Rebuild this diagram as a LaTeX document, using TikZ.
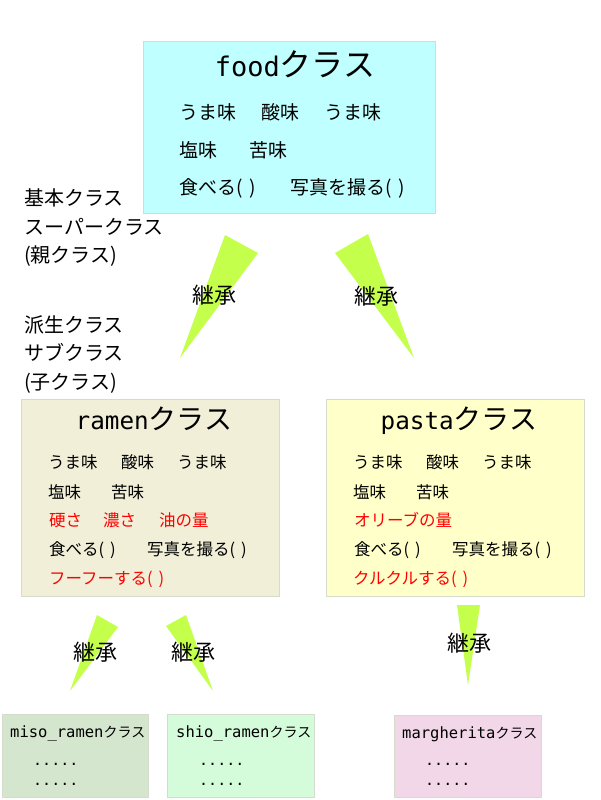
\documentclass[tikz,border=0pt]{standalone}
\usepackage{fontspec}
\setmainfont{Noto Sans CJK JP}
\setmonofont{DejaVu Sans Mono}
\usepackage{xcolor}
\usepackage{tikz}
\usetikzlibrary{positioning}
\definecolor{foodcol}{HTML}{C0FFFF}
\definecolor{ramencol}{HTML}{F1EFD8}
\definecolor{pastacol}{HTML}{FFFFCA}
\definecolor{misocol}{HTML}{D5E6CF}
\definecolor{shiocol}{HTML}{D4FCDA}
\definecolor{margcol}{HTML}{F1D7E8}
\definecolor{wedgecol}{HTML}{C4FF4C}
\definecolor{boxline}{HTML}{D6DCCB}
\tikzset{cls/.style={draw=boxline,line width=0.6pt,anchor=north west,inner sep=0},
  bigrow/.style={anchor=base west,inner sep=0,font=\fontsize{19}{22}\selectfont},
  row/.style={anchor=base west,inner sep=0,font=\fontsize{16.5}{20}\selectfont},
  side/.style={anchor=base west,inner sep=0,font=\fontsize{20}{23}\selectfont},
  small/.style={anchor=base west,inner sep=0,font=\fontsize{14}{16}\selectfont},
  dots/.style={anchor=base west,inner sep=0,font=\ttfamily\fontsize{15}{16}\selectfont},
  inh/.style={inner sep=0,font=\fontsize{22}{24}\selectfont},
  wedge/.style={fill=wedgecol}}

\begin{document}
\begin{tikzpicture}[x=1pt,y=-1pt]
    \useasboundingbox (0,0) rectangle (600,800);

    % classes
    \node[cls,fill=foodcol,minimum width=292pt,minimum height=172pt] (food) at (143,41) {};
    \node[cls,fill=ramencol,minimum width=258pt,minimum height=197pt] (ramen) at (21,399) {};
    \node[cls,fill=pastacol,minimum width=258pt,minimum height=197pt] (pasta) at (326,399) {};
    \node[cls,fill=misocol,minimum width=146pt,minimum height=83pt] (miso) at (2,714) {};
    \node[cls,fill=shiocol,minimum width=147pt,minimum height=83pt] (shio) at (167,714) {};
    \node[cls,fill=margcol,minimum width=147pt,minimum height=82pt] (marg) at (394,715) {};

    % food
    \node[anchor=base,inner sep=0,font=\fontsize{32}{36}\selectfont] (foodtitle) at (295,77)
        {{\ttfamily\fontsize{27}{30}\selectfont food}クラス};
    \node[bigrow] (food1) at (179,119) {\makebox[4.35em][l]{うま味}\makebox[3.3em][l]{酸味}うま味};
    \node[bigrow] (food2) at (179,157) {\makebox[3.7em][l]{塩味}苦味};
    \node[bigrow] (food3) at (179,194) {\makebox[5.85em][l]{食べる(\hspace{0.35em})}写真を撮る(\hspace{0.35em})};

    % labels on the left
    \node[side] (base1) at (24,205) {基本クラス};
    \node[side] (base2) at (24,234) {スーパークラス};
    \node[side] (base3) at (24,262) {(親クラス)};
    \node[side] (sub1) at (24,332) {派生クラス};
    \node[side] (sub2) at (24,360) {サブクラス};
    \node[side] (sub3) at (24,389) {(子クラス)};

    % ramen
    \node[anchor=base,inner sep=0,font=\fontsize{28}{32}\selectfont] (ramentitle) at (154,429)
        {{\ttfamily\fontsize{24.3}{28}\selectfont ramen}クラス};
    \node[row] (ramen1) at (48,468) {\makebox[4.42em][l]{うま味}\makebox[3.39em][l]{酸味}うま味};
    \node[row] (ramen2) at (48,498) {\makebox[3.82em][l]{塩味}苦味};
    \node[row,text=red] (ramen3) at (49,526) {\makebox[3.27em][l]{硬さ}\makebox[3.39em][l]{濃さ}油の量};
    \node[row] (ramen4) at (49,555) {\makebox[5.94em][l]{食べる(\hspace{0.35em})}写真を撮る(\hspace{0.35em})};
    \node[row,text=red] (ramen5) at (49,584) {フーフーする(\hspace{0.35em})};

    % pasta
    \node[anchor=base,inner sep=0,font=\fontsize{28}{32}\selectfont] (pastatitle) at (459,429)
        {{\ttfamily\fontsize{24.3}{28}\selectfont pasta}クラス};
    \node[row] (pasta1) at (353,468) {\makebox[4.42em][l]{うま味}\makebox[3.39em][l]{酸味}うま味};
    \node[row] (pasta2) at (353,498) {\makebox[3.82em][l]{塩味}苦味};
    \node[row,text=red] (pasta3) at (354,526) {オリーブの量};
    \node[row] (pasta4) at (354,555) {\makebox[5.94em][l]{食べる(\hspace{0.35em})}写真を撮る(\hspace{0.35em})};
    \node[row,text=red] (pasta5) at (353,584) {クルクルする(\hspace{0.35em})};

    % sub classes
    \node[small] (misotitle) at (10,737) {{\ttfamily\fontsize{15.5}{16}\selectfont miso\_ramen}クラス};
    \node[dots] (miso1) at (33,765) {.....};
    \node[dots] (miso2) at (33,785) {.....};
    \node[small] (shiotitle) at (176,737) {{\ttfamily\fontsize{15.5}{16}\selectfont shio\_ramen}クラス};
    \node[dots] (shio1) at (199,765) {.....};
    \node[dots] (shio2) at (199,785) {.....};
    \node[small] (margtitle) at (402,738) {{\ttfamily\fontsize{15.5}{16}\selectfont margherita}クラス};
    \node[dots] (marg1) at (425,765) {.....};
    \node[dots] (marg2) at (425,785) {.....};

    % inheritance wedges
    \coordinate (ra) at (225,235);
    \coordinate (rb) at (258,253);
    \coordinate (rtip) at (180,358);
    \coordinate (pa) at (335,253);
    \coordinate (pb) at (368,234);
    \coordinate (ptip) at (414,358);
    \coordinate (ma) at (97,615);
    \coordinate (mb) at (118,627);
    \coordinate (mtip) at (70,691);
    \coordinate (sa) at (166,626);
    \coordinate (sb) at (186,615);
    \coordinate (stip) at (213,691);
    \coordinate (ga) at (457,605);
    \coordinate (gb) at (480,605);
    \coordinate (gtip) at (468,685);
    \fill[wedge] (ra) -- (rb) -- (rtip) -- cycle;
    \fill[wedge] (pa) -- (pb) -- (ptip) -- cycle;
    \fill[wedge] (ma) -- (mb) -- (mtip) -- cycle;
    \fill[wedge] (sa) -- (sb) -- (stip) -- cycle;
    \fill[wedge] (ga) -- (gb) -- (gtip) -- cycle;

    \node[inh] (inhr) at (214,295) {継承};
    \node[inh] (inhp) at (376,296) {継承};
    \node[inh] (inhm) at (95,652) {継承};
    \node[inh] (inhs) at (193,652) {継承};
    \node[inh] (inhg) at (469,643) {継承};
\end{tikzpicture}
\end{document}
